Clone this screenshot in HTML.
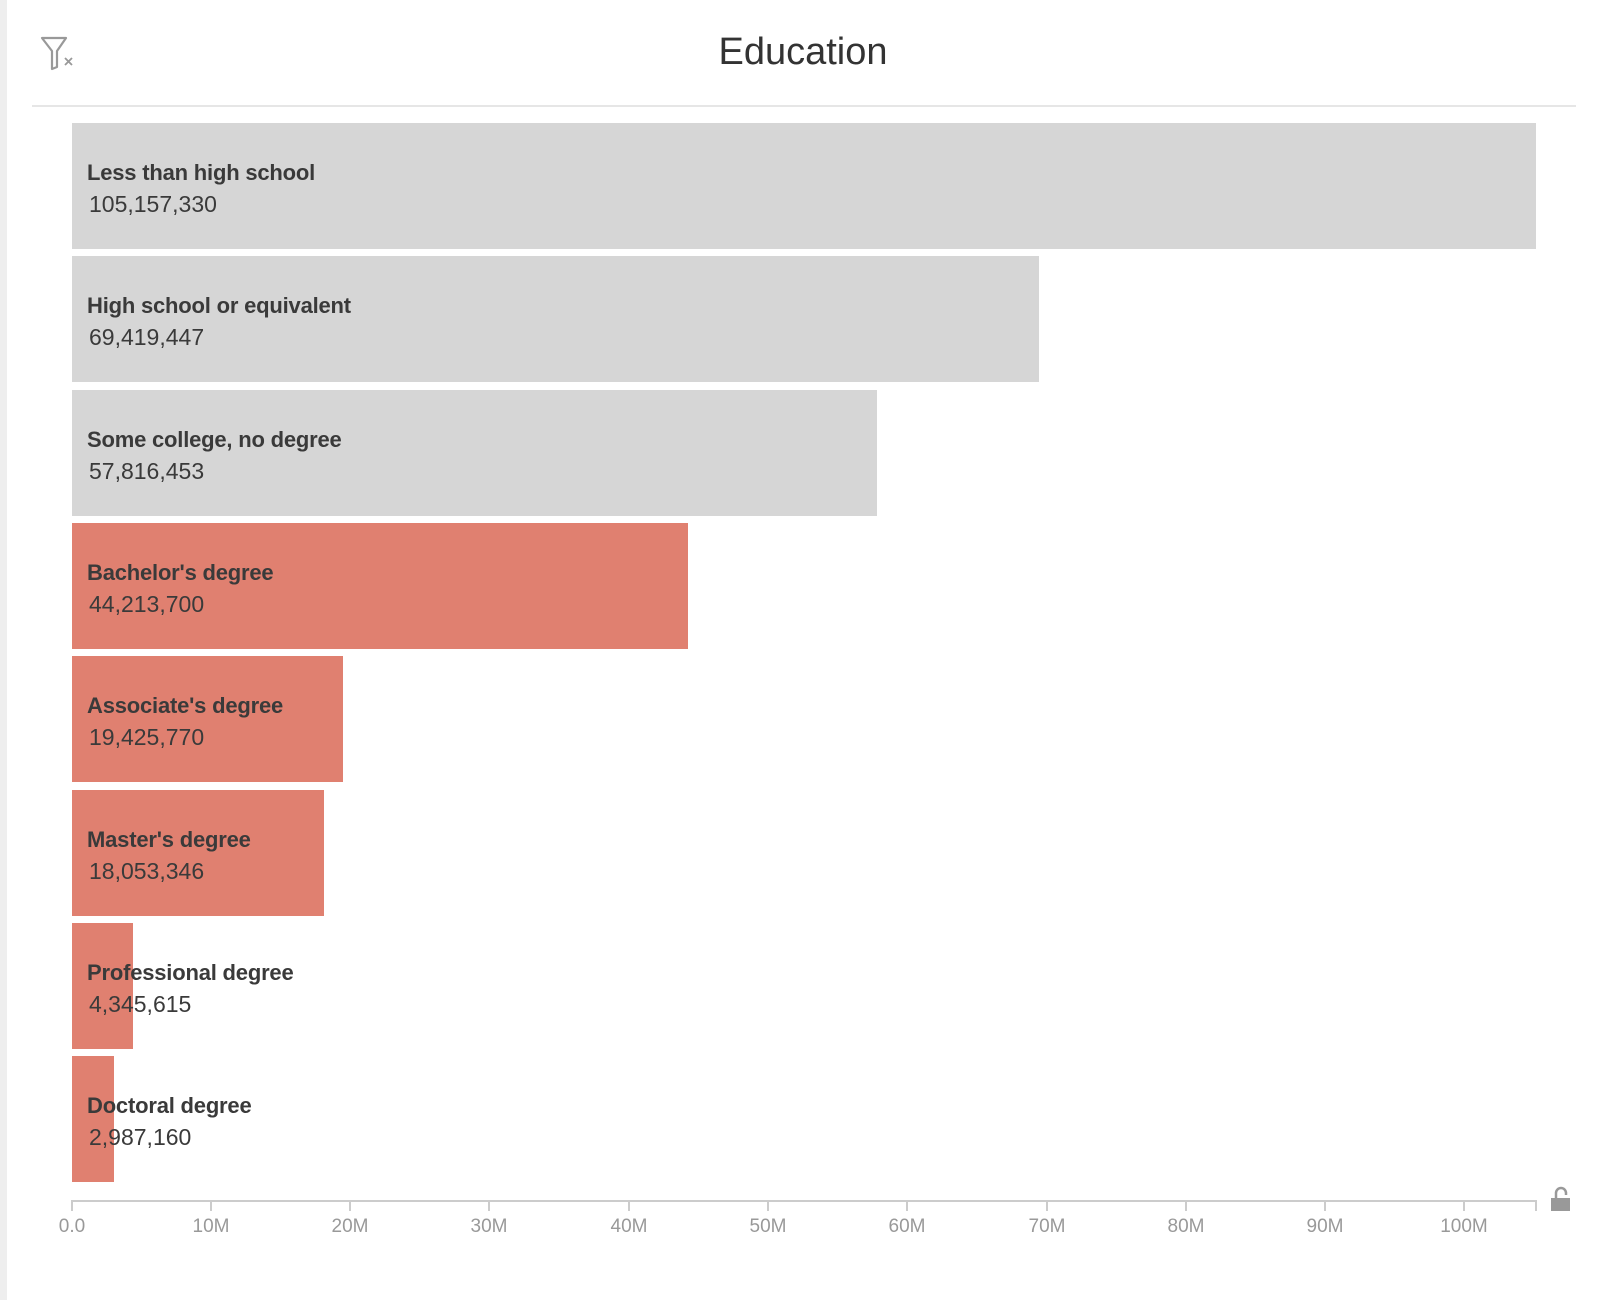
<!DOCTYPE html>
<html><head><meta charset="utf-8"><style>
body{margin:0;width:1600px;height:1300px;background:#fff;position:relative;overflow:hidden;font-family:"Liberation Sans",Arial,sans-serif}
.strip{position:absolute;left:0;top:0;width:7px;height:1300px;background:#eeeeee}
.title{position:absolute;left:0;width:1606px;top:31px;text-align:center;font-size:38px;color:#333}
.div{position:absolute;left:32px;top:105px;width:1544px;height:2px;background:#e6e6e6}
.bar{position:absolute;left:72px;height:126px}
.g{background:#d6d6d6}.r{background:#e08070}
.lab{position:absolute;left:87px;font-size:22px;color:#3a3a3a;white-space:nowrap}
.lab b{display:block;line-height:31px;letter-spacing:-0.2px}
.lab span{display:block;line-height:33px;font-size:23px;padding-left:2px}
.axis{position:absolute;left:72px;top:1200px;width:1464px;height:2px;background:#ccc}
.tick{position:absolute;top:1200px;width:2px;height:11px;background:#ccc}
.tl{position:absolute;top:1216px;font-size:19px;color:#999;width:80px;text-align:center}
</style></head><body>
<div class="strip"></div>
<svg style="position:absolute;left:40px;top:36px" width="40" height="36" viewBox="0 0 40 36">
<path d="M2 2 H26 L17 15 V31 L12 33 V15 Z" fill="none" stroke="#999" stroke-width="2.2" stroke-linejoin="round"/>
<path d="M25 22 L32 29 M32 22 L25 29" stroke="#999" stroke-width="1.8"/>
</svg>
<div class="title">Education</div>
<div class="div"></div>

<div class="bar g" style="top:123px;width:1464px"></div>
<div class="bar g" style="top:256px;width:967px"></div>
<div class="bar g" style="top:390px;width:805px"></div>
<div class="bar r" style="top:523px;width:616px"></div>
<div class="bar r" style="top:656px;width:271px"></div>
<div class="bar r" style="top:790px;width:252px"></div>
<div class="bar r" style="top:923px;width:61px"></div>
<div class="bar r" style="top:1056px;width:42px"></div>

<div class="lab" style="top:157px"><b>Less than high school</b><span>105,157,330</span></div>
<div class="lab" style="top:290px"><b>High school or equivalent</b><span>69,419,447</span></div>
<div class="lab" style="top:424px"><b>Some college, no degree</b><span>57,816,453</span></div>
<div class="lab" style="top:557px"><b>Bachelor's degree</b><span>44,213,700</span></div>
<div class="lab" style="top:690px"><b>Associate's degree</b><span>19,425,770</span></div>
<div class="lab" style="top:824px"><b>Master's degree</b><span>18,053,346</span></div>
<div class="lab" style="top:957px"><b>Professional degree</b><span>4,345,615</span></div>
<div class="lab" style="top:1090px"><b>Doctoral degree</b><span>2,987,160</span></div>

<div class="axis"></div>
<div class="tick" style="left:71px"></div><div class="tl" style="left:32px">0.0</div>
<div class="tick" style="left:210px"></div><div class="tl" style="left:171px">10M</div>
<div class="tick" style="left:349px"></div><div class="tl" style="left:310px">20M</div>
<div class="tick" style="left:488px"></div><div class="tl" style="left:449px">30M</div>
<div class="tick" style="left:628px"></div><div class="tl" style="left:589px">40M</div>
<div class="tick" style="left:767px"></div><div class="tl" style="left:728px">50M</div>
<div class="tick" style="left:906px"></div><div class="tl" style="left:867px">60M</div>
<div class="tick" style="left:1046px"></div><div class="tl" style="left:1007px">70M</div>
<div class="tick" style="left:1185px"></div><div class="tl" style="left:1146px">80M</div>
<div class="tick" style="left:1324px"></div><div class="tl" style="left:1285px">90M</div>
<div class="tick" style="left:1463px"></div><div class="tl" style="left:1424px">100M</div>
<div class="tick" style="left:1535px"></div>
<svg style="position:absolute;left:1550px;top:1186px" width="22" height="26" viewBox="0 0 22 26">
<path d="M6 12 V7 A5 5 0 0 1 16 7 V9" fill="none" stroke="#999" stroke-width="2.5"/>
<rect x="1" y="12" width="19" height="13" fill="#999"/>
</svg>
</body></html>
